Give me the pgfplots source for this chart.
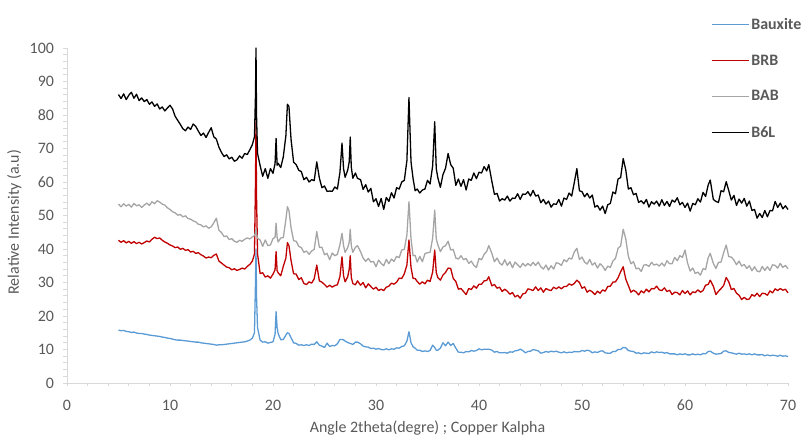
\documentclass[border=0pt]{standalone}
\usepackage{pgfplots}
\pgfplotsset{compat=1.18}
\usepackage{pgfplotstable}
\usepackage{fontspec}
\setmainfont{Carlito}
\definecolor{bau}{HTML}{5B9BD5}
\definecolor{brb}{HTML}{C00000}
\definecolor{bab}{HTML}{A5A5A5}
\definecolor{txt}{HTML}{595959}
\definecolor{axl}{HTML}{D9D9D9}

\pgfplotstableread{
x b6l bab brb bau
5.00 86.1 53.4 42.6 15.8
5.25 84.9 52.6 42.0 15.6
5.50 86.3 53.5 42.5 15.7
5.75 84.6 52.8 41.8 15.4
6.00 85.9 53.3 42.3 15.3
6.25 86.8 52.5 41.7 15.1
6.50 85.0 53.6 42.2 15.2
6.75 86.2 52.9 41.6 14.9
7.00 84.3 53.2 42.0 14.8
7.25 85.1 52.4 41.5 14.8
7.50 84.0 53.1 41.9 14.6
7.75 84.6 53.7 42.4 14.5
8.00 83.2 53.0 42.1 14.3
8.25 83.9 54.1 42.9 14.2
8.50 82.6 53.5 43.5 14.1
8.75 83.3 54.4 43.1 14.0
9.00 81.8 54.0 43.3 13.9
9.25 82.4 53.4 42.6 13.7
9.50 81.2 53.1 42.1 13.6
9.75 82.1 52.3 41.7 13.4
10.00 82.9 51.8 41.2 13.3
10.25 81.8 51.1 40.9 13.1
10.50 79.6 50.8 40.4 12.9
10.75 78.4 50.1 40.6 12.8
11.00 77.2 50.3 39.9 12.8
11.25 75.9 49.6 40.2 12.7
11.50 75.3 49.9 39.6 12.6
11.75 76.4 49.1 39.8 12.5
12.00 75.7 48.9 39.1 12.4
12.25 77.3 48.4 39.3 12.3
12.50 76.6 48.1 38.7 12.2
12.75 75.2 47.4 38.9 12.2
13.00 73.9 47.2 38.3 12.0
13.25 74.6 46.6 37.9 11.9
13.50 73.3 46.9 37.3 11.8
13.75 74.8 46.2 37.6 11.7
14.00 76.2 46.6 37.4 11.6
14.25 73.5 47.8 38.1 11.5
14.50 72.8 49.2 38.5 11.3
14.75 70.4 45.6 36.4 11.4
15.00 68.8 44.9 35.8 11.4
15.25 67.6 43.7 35.2 11.5
15.50 68.1 43.9 34.6 11.6
15.75 66.9 42.8 34.4 11.7
16.00 67.4 43.1 33.8 11.8
16.25 66.2 42.3 34.1 11.9
16.50 66.6 42.0 33.6 12.0
16.75 67.8 42.6 33.9 12.1
17.00 67.1 42.3 34.3 12.2
17.25 68.5 42.9 34.0 12.3
17.50 68.2 43.3 34.8 12.5
17.75 69.6 43.0 35.4 12.8
18.00 71.2 43.6 36.4 13.4
18.20 73.5 44.0 38.5 15.0
18.30 86.0 45.0 60.0 30.0
18.35 100.0 46.0 78.0 40.0
18.40 80.0 44.5 56.0 26.0
18.50 68.5 43.2 38.5 16.5
18.75 64.9 42.7 32.7 12.8
19.00 61.7 40.8 32.9 12.2
19.25 64.0 42.7 31.6 12.3
19.50 61.1 41.0 32.0 11.9
19.75 64.0 41.2 31.3 12.1
20.00 62.6 43.1 32.5 12.3
20.20 65.5 43.5 33.8 14.5
20.30 73.0 47.7 39.2 21.3
20.40 65.0 43.5 33.5 16.5
20.50 65.6 42.1 32.9 14.8
20.75 64.3 43.3 32.0 12.9
21.00 67.5 43.4 34.8 13.0
21.25 73.8 48.8 37.3 14.3
21.40 83.2 52.6 41.9 15.0
21.55 82.5 51.5 41.0 14.8
21.75 72.8 46.4 36.6 13.5
22.00 65.9 42.5 32.6 12.0
22.25 65.2 42.3 32.5 11.8
22.50 63.5 40.8 30.9 11.3
22.75 63.1 40.4 31.4 11.4
23.00 60.7 39.0 29.7 11.2
23.25 61.4 39.4 29.4 11.4
23.50 60.0 38.4 30.2 11.2
23.75 60.7 39.4 29.8 11.6
24.00 60.4 39.9 31.1 11.5
24.25 66.0 45.2 35.2 12.3
24.50 61.2 40.5 30.5 11.3
24.75 58.3 40.5 30.1 11.0
25.00 58.8 38.3 29.4 10.6
25.25 57.2 38.7 28.6 11.9
25.50 57.3 36.8 29.2 10.9
25.75 57.2 38.8 28.6 11.2
26.00 58.5 38.0 29.1 11.1
26.25 57.9 38.4 29.3 11.7
26.50 62.9 41.3 31.8 13.0
26.70 71.6 44.7 37.7 13.0
26.85 64.0 41.0 32.0 12.9
27.00 61.4 39.0 30.2 12.5
27.25 63.5 40.4 31.7 12.1
27.40 66.0 42.0 34.0 11.9
27.50 73.4 45.9 38.0 11.8
27.60 64.5 41.0 31.5 11.7
27.75 61.1 39.0 29.7 11.5
28.00 62.7 40.5 29.3 12.2
28.20 61.1 41.0 30.5 12.2
28.50 60.7 39.2 29.2 11.7
28.75 57.8 37.3 30.0 11.0
29.00 59.2 36.3 28.4 10.8
29.25 57.0 37.2 29.6 10.7
29.50 58.1 36.1 28.8 10.3
29.75 54.1 36.3 28.0 10.4
30.00 55.0 34.7 28.6 10.1
30.25 52.7 36.7 27.6 10.3
30.50 55.1 35.7 28.0 10.0
30.75 51.8 35.0 27.6 9.9
31.00 55.4 36.9 28.6 10.2
31.25 54.2 35.6 28.9 9.9
31.50 56.8 37.0 29.8 10.2
31.75 55.2 36.3 29.5 10.1
32.00 58.3 37.8 30.1 10.5
32.25 57.9 37.4 31.3 10.4
32.50 60.0 39.7 31.2 10.9
32.75 60.5 39.9 32.6 11.1
33.00 66.4 44.2 35.2 12.5
33.20 85.2 54.1 42.7 15.3
33.40 66.0 43.0 34.5 12.0
33.60 61.0 38.0 31.2 10.8
33.80 57.4 38.1 31.2 10.4
34.00 57.9 36.1 30.3 9.8
34.25 56.7 37.8 29.5 9.8
34.50 57.6 36.2 30.2 9.4
34.75 57.9 38.6 29.6 9.6
35.00 60.5 38.9 30.7 9.4
35.25 59.4 39.0 30.3 9.7
35.50 64.8 43.2 33.1 11.3
35.70 78.0 51.6 39.7 10.6
35.85 64.0 43.0 33.0 9.8
36.00 61.3 41.3 31.5 9.8
36.25 58.4 39.2 30.7 10.4
36.50 62.2 40.6 32.2 12.0
36.75 64.1 41.0 33.0 11.1
37.00 68.5 42.3 34.3 12.2
37.25 65.2 39.7 34.2 11.2
37.50 64.1 39.9 31.2 11.8
37.75 59.0 37.3 30.3 10.4
38.00 60.9 37.0 28.0 9.2
38.25 58.7 38.0 28.2 9.2
38.50 60.7 36.8 27.3 9.0
38.75 57.6 37.2 26.4 9.4
39.00 60.9 35.7 28.2 9.3
39.25 60.5 36.4 27.9 9.7
39.50 62.7 35.1 29.0 9.5
39.75 61.0 34.5 28.3 9.7
40.00 62.9 37.2 29.5 10.2
40.25 62.7 36.8 29.5 9.9
40.50 64.6 38.4 30.5 10.1
40.75 63.3 39.3 30.6 10.1
40.95 65.2 41.0 31.7 10.1
41.25 60.2 38.7 29.0 9.8
41.50 56.3 36.2 29.4 9.2
41.75 56.6 37.3 28.3 9.4
42.00 54.3 35.8 28.6 9.0
42.25 55.0 35.2 27.3 9.0
42.50 54.6 36.8 28.0 9.1
42.75 55.8 35.1 27.4 8.9
43.00 54.3 36.2 26.5 9.3
43.25 55.2 34.4 27.0 9.2
43.50 55.1 36.1 25.7 9.6
43.75 56.5 35.3 26.2 9.7
44.00 54.8 34.5 25.3 10.1
44.25 56.4 35.7 26.6 9.7
44.50 56.3 34.9 26.8 9.0
44.75 57.1 35.7 28.1 9.4
45.00 55.8 35.0 27.9 9.5
45.25 57.5 36.0 27.6 10.0
45.50 55.8 35.1 28.7 9.8
45.75 56.1 36.1 27.6 9.6
46.00 53.8 34.7 28.4 8.9
46.25 54.8 34.0 27.1 9.1
46.50 53.4 35.2 28.2 9.4
46.75 54.3 33.7 27.8 9.2
47.00 52.5 35.0 27.6 9.5
47.25 53.5 34.0 28.6 9.3
47.50 53.3 35.9 28.1 9.5
47.75 54.8 35.7 28.7 9.2
48.00 52.8 35.1 28.1 9.0
48.25 55.2 36.8 28.8 9.3
48.50 54.8 36.2 28.8 9.0
48.75 56.7 37.3 29.6 9.2
49.00 55.8 37.0 29.2 9.1
49.25 59.8 39.1 29.7 9.4
49.50 64.0 40.2 30.7 9.3
49.75 57.4 36.9 30.0 9.3
50.00 57.1 37.6 28.3 9.7
50.25 55.6 36.1 28.7 9.5
50.50 56.6 35.5 27.1 9.8
50.75 55.2 36.9 27.7 9.6
51.00 56.1 35.2 27.2 9.0
51.25 52.5 35.9 26.4 9.3
51.50 53.0 34.3 27.4 9.1
51.75 51.6 35.6 26.8 9.5
52.00 52.8 34.9 27.8 9.6
52.25 50.6 33.6 27.4 9.0
52.50 53.2 34.9 28.8 8.9
52.75 53.6 34.5 28.9 8.9
53.00 57.0 36.4 30.1 9.4
53.25 56.5 37.2 30.2 9.4
53.50 60.9 40.2 31.4 10.0
53.75 61.3 40.9 33.2 10.0
54.00 67.0 45.9 34.7 10.6
54.25 63.6 43.0 31.0 10.5
54.50 57.9 37.8 29.1 9.7
54.75 58.3 35.6 27.1 9.5
55.00 56.2 36.2 27.7 9.4
55.25 56.6 34.1 27.2 8.9
55.50 53.9 34.3 26.3 9.0
55.75 54.4 33.3 27.5 8.7
56.00 53.5 35.2 26.9 9.0
56.25 54.8 35.3 28.0 8.9
56.50 52.5 34.8 27.2 8.8
56.75 54.1 36.0 28.2 9.3
57.00 53.4 35.2 28.1 9.0
57.25 54.3 35.5 28.9 9.3
57.50 52.8 34.9 27.8 9.1
57.75 54.7 35.8 27.6 9.2
58.00 53.0 34.9 28.4 8.9
58.25 54.2 36.5 27.3 9.1
58.50 52.7 35.6 27.7 8.7
58.75 54.6 35.6 26.4 8.7
59.00 54.0 37.5 27.1 8.7
59.25 55.3 36.5 27.0 8.4
59.50 53.2 38.0 26.3 8.7
59.75 53.9 37.5 27.6 8.5
60.00 52.4 39.7 26.7 8.7
60.25 53.7 35.8 27.5 8.4
60.50 51.3 33.4 26.3 8.4
60.75 53.6 34.3 27.2 8.7
61.00 53.2 32.7 27.0 8.4
61.25 55.0 33.1 27.8 8.6
61.50 54.0 32.2 27.1 8.4
61.75 56.9 34.1 27.6 8.8
62.00 55.7 33.9 29.2 8.7
62.25 59.1 37.4 29.4 9.4
62.45 60.6 38.7 30.7 9.5
62.75 54.8 35.7 28.9 8.9
63.00 54.2 34.2 26.4 8.6
63.25 53.9 36.0 27.4 8.7
63.50 57.4 36.1 28.2 8.8
63.75 57.1 38.9 29.1 9.5
64.00 60.1 41.2 31.5 9.6
64.25 57.4 37.7 30.2 9.1
64.50 54.6 37.6 27.9 9.0
64.75 56.0 36.7 28.2 8.8
65.00 53.0 35.3 26.8 8.6
65.25 54.9 36.4 26.2 8.9
65.50 53.7 34.9 24.9 8.6
65.75 55.1 35.4 25.6 8.7
66.00 52.8 34.2 24.9 8.5
66.25 54.3 35.0 25.1 8.7
66.50 51.5 33.5 26.4 8.4
66.75 51.8 34.7 25.9 8.7
67.00 49.2 33.4 26.8 8.4
67.25 50.6 33.2 25.8 8.4
67.50 49.4 34.8 26.8 8.5
67.75 51.5 33.6 26.7 8.1
68.00 49.6 34.7 26.2 8.4
68.25 51.5 33.6 27.5 8.1
68.50 51.4 35.3 26.9 8.3
68.75 54.2 35.1 28.1 8.2
69.00 52.4 34.3 27.6 8.0
69.25 53.7 35.7 28.2 8.3
69.50 52.0 34.5 27.7 8.0
69.75 52.9 35.1 28.0 8.1
70.00 51.8 34.1 26.9 7.9
}\xrd

\begin{document}
\begin{tikzpicture}
\useasboundingbox (-67bp,-55bp) rectangle (740bp,383bp);
\begin{axis}[
  at={(0,0)}, anchor=south west,
  scale only axis, width=721bp, height=335bp,
  xmin=0, xmax=70, ymin=0, ymax=100,
  axis lines=left,
  axis line style={-, draw=axl, line width=0.9bp},
  xtick={0,10,...,70}, ytick={0,10,...,100},
  minor tick num=4,
  tick align=outside, major tick length=3.5bp, minor tick length=3.5bp,
  tick style={draw=axl, line width=0.8bp},
  tick label style={font=\fontsize{16}{19}\selectfont, text=txt},
  /pgf/number format/assume math mode=true,
  xticklabel style={yshift=-10bp},
  yticklabel style={xshift=-6bp},
  xlabel={Angle 2theta(degre) ; Copper Kalpha},
  ylabel={Relative Intensity (a.u)},
  label style={font=\fontsize{16}{19}\selectfont, text=txt},
  xlabel style={at={(axis description cs:0.5,-0.134)}, anchor=center},
  ylabel style={at={(axis description cs:-0.073,0.48)}, anchor=center, rotate=0},
  legend style={at={(0.893,1.096)}, anchor=north west, draw=none, fill=none,
    font=\bfseries\fontsize{16}{19}\selectfont, text=txt, row sep=20bp, inner sep=0pt},
  legend cell align=left,
  legend image code/.code={\draw[#1, line width=1.3bp] (0bp,0bp) -- (37bp,0bp);},
  every axis plot/.append style={mark=none, line width=1.3bp, line join=round},
  clip=false,
]
\addplot[bau] table[x=x,y=bau]{\xrd}; \addlegendentry{Bauxite}
\addplot[brb] table[x=x,y=brb]{\xrd}; \addlegendentry{BRB}
\addplot[bab] table[x=x,y=bab]{\xrd}; \addlegendentry{BAB}
\addplot[black] table[x=x,y=b6l]{\xrd}; \addlegendentry{B6L}
\end{axis}
\end{tikzpicture}
\end{document}
